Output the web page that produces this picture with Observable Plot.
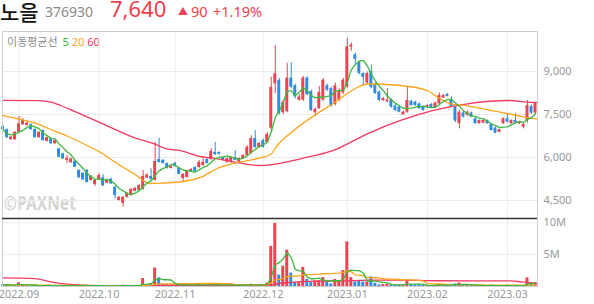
<!DOCTYPE html>
<html><head><meta charset="utf-8">
<script src="https://cdn.jsdelivr.net/npm/d3@7"></script>
<script src="https://cdn.jsdelivr.net/npm/@observablehq/plot@0.6"></script>
<style>
body{margin:0;background:#fff;}
#wrap{position:relative;width:594px;height:304px;overflow:hidden;font-family:"Noto Sans","Noto Sans CJK KR",sans-serif;}
#head{position:absolute;left:0;top:0;}
#legend{position:absolute;left:7px;top:33px;font-size:11px;color:#8c8c8c;white-space:nowrap;}
#wm{position:absolute;left:4px;top:189px;font-size:20px;font-weight:700;color:#d4d4d4;transform:scaleX(0.78);transform-origin:left top;white-space:nowrap;}
#price{position:absolute;left:0;top:31px;}
#vol{position:absolute;left:0;top:218px;}
</style></head>
<body><div id="wrap">
<svg id="head" width="594" height="30" font-family="'Noto Sans','Noto Sans CJK KR',sans-serif">
  <text x="0" y="19.5" font-family="'Noto Sans CJK KR'" font-size="21" font-weight="500" fill="#111">노을</text>
  <text x="45" y="17" font-size="14" fill="#8a8a8a">376930</text>
  <text x="110" y="17" font-size="22" fill="#f0404e">7,640</text>
  <text x="178" y="15" font-size="10" fill="#f0404e">▲</text>
  <text x="191" y="17" font-size="14.5" fill="#f0404e">90</text>
  <text x="213" y="17" font-size="14.5" fill="#f0404e">+1.19%</text>
</svg>
<div id="legend"><span style="font-family:'Noto Sans CJK KR'">이동평균선</span> <span style="color:#3cb83c;margin-left:2px">5</span> <span style="color:#ffa31a">20</span> <span style="color:#f23a62">60</span></div>
<div id="wm">©PAXNet</div>
<div id="price"></div>
<div id="vol"></div>
</div>
<script>
// ---- data (index = trading day from 2022-08-26) ----
const monthIdx = [4, 24, 43, 65, 86, 106, 126];
const monthLabels = ["2022.09", "2022.10", "2022.11", "2022.12", "2023.01", "2023.02", "2023.03"];
const priceTicks = [4500, 6000, 7500, 9000];
const volTicks = [5, 10];

const open = [7070,6970,6620,6620,6880,7140,7120,7140,6980,6690,6940,6560,6650,6480,6300,6130,5900,5820,5870,5550,5450,5550,5200,5060,5220,5290,5100,5240,4960,4500,4400,4610,4675,4815,4850,4880,5280,5340,5200,5930,5900,5790,5620,5790,5620,5270,5300,5510,5650,5650,5720,5930,5930,6175,6170,6000,5830,5830,6000,5830,5965,6070,6140,6660,6350,6590,6520,7020,8570,8690,7560,7600,8770,8500,8000,8000,8770,8300,7560,7700,8000,8500,8400,7850,8000,8250,8460,9850,9580,9300,8930,8600,9000,8560,8280,7990,7950,8000,7800,7760,7490,7580,7960,7930,7870,7750,7740,7850,7740,7870,8080,8200,8010,7760,7180,7550,7470,7550,7350,7180,7200,7290,7150,7030,6880,7180,7350,7180,7290,7180,7060,7290,7780,7550];
const high = [7130,7000,6730,6900,7430,7350,7260,7180,7000,6900,6960,6720,6680,6620,6330,6150,6070,5980,5900,5570,5470,5580,5370,5230,5440,5400,5250,5280,4990,4640,4640,4780,4920,4960,5060,5550,5420,5610,6525,6675,5930,5810,5710,5830,5650,5440,5540,5620,5680,5900,5960,5960,6310,6525,6200,6030,5990,6030,6240,5990,6100,6420,6760,6940,6520,6640,6870,8800,9900,8760,8000,9280,9300,8560,8200,8830,8820,8350,7720,8480,8750,8560,8450,8600,8400,8760,10150,10000,9650,9350,8950,8980,9220,8600,8330,8100,8400,8050,7850,7800,7620,8450,8000,7960,7900,7780,7840,7880,7930,8250,8200,8230,8120,7790,7640,7600,7620,7580,7400,7310,7310,7310,7180,7060,6990,7380,7500,7310,7540,7260,7180,7990,7830,7900];
const low = [6940,6660,6600,6600,6860,7120,7090,6950,6680,6670,6570,6540,6450,6460,5990,5930,5790,5800,5640,5270,5200,5110,5180,4990,5200,4990,5080,5060,4550,4480,4270,4590,4650,4800,4830,4870,5260,5160,5180,5800,5770,5600,5600,5670,5390,5150,5280,5490,5490,5620,5700,5770,5900,6070,6090,5880,5800,5800,5880,5780,5940,6040,6100,6320,6320,6330,6490,6880,8230,7480,7500,7560,8400,8040,7960,7960,8150,7600,7430,7680,7960,8300,7750,7800,7950,8200,8420,9700,9230,8880,8500,8550,8400,8200,7950,7950,7900,7720,7600,7560,7470,7550,7790,7790,7680,7620,7720,7720,7720,7850,8060,8110,7750,7220,7000,7380,7440,7390,7160,7160,7180,7160,6920,6820,6860,7150,7210,7160,7180,7150,7000,7200,7500,7500];
const close = [6970,6690,6710,6880,7175,7290,7200,6970,6690,6880,6590,6690,6480,6590,6010,5950,5970,5950,5660,5290,5220,5130,5340,5200,5370,5010,5220,5080,4680,4610,4610,4745,4885,4920,5020,5340,5390,5240,5860,5830,5790,5620,5690,5690,5410,5410,5510,5580,5510,5830,5830,5790,6210,6105,6110,5900,5960,6000,5900,5960,6070,6350,6660,6350,6490,6350,6800,8450,8920,7540,7930,8770,8450,8110,8110,8770,8190,7640,7680,8270,8700,8350,7800,8500,8300,8700,9860,9920,9420,8930,8800,8930,8440,8230,7990,8060,8000,7760,7640,7580,7580,7990,7810,7810,7700,7640,7810,7740,7900,8160,8160,8130,7780,7270,7580,7410,7580,7410,7180,7290,7290,7180,6940,6850,6970,7350,7230,7290,7200,7230,7150,7810,7550,7880];
// volume in millions of shares
const volume = [0.25,0.3,0.15,0.2,0.56,0.2,0.15,0.12,0.15,0.12,0.15,0.1,0.12,0.1,0.15,0.1,0.12,0.1,0.1,0.15,0.12,0.15,0.1,0.1,0.1,0.12,0.08,0.08,0.18,0.12,0.2,0.1,0.12,0.1,0.15,1.25,0.3,0.4,2.9,1.35,0.35,0.3,0.2,0.2,0.3,0.25,0.25,0.2,0.2,0.3,0.25,0.2,0.35,0.3,0.25,0.2,0.2,0.2,0.25,0.2,0.2,0.3,0.35,0.25,0.2,0.25,0.5,6.3,9.9,1.8,3.2,5.7,2.1,0.6,0.6,3.0,1.1,0.6,0.9,0.9,1.4,0.7,0.4,1.1,0.9,2.5,7.0,1.4,0.7,0.8,0.7,0.7,1.5,0.5,0.25,0.3,0.35,0.25,0.2,0.25,0.2,0.9,0.3,0.2,0.25,0.2,0.15,0.15,0.2,0.35,0.3,0.15,0.25,0.4,0.55,0.2,0.15,0.15,0.2,0.15,0.12,0.12,0.2,0.15,0.15,0.12,0.15,0.12,0.15,0.12,0.15,1.35,0.5,0.6];
// moving averages (index, value)
const ma20Idx = [0,4.4,7.6,11.9,16,20,24.4,28.5,32.6,36.8,40,45,49.3,53.5,57.6,63.5,66.8,68.5,72.6,78.5,82.5,86,88.5,91,99.3,106,108.5,111.8,116,120,124.2,128.4,131,133.4];
const ma20Val = [7465,7326,7221,6977,6750,6489,6175,5791,5442,5093,5111,5163,5303,5617,5791,5965,6105,6419,6942,7535,7884,8233,8442,8564,8512,8337,8104,7873,7800,7699,7580,7465,7385,7350];
const ma60Idx = [0,9,12,14.4,18,24.4,32.6,37.6,41,44.3,49.3,52.6,59.3,64.3,66.8,68.5,74.3,82.5,91,99.3,107.5,116,126.7,131,133.4];
const ma60Val = [7990,7985,7930,7814,7600,7210,6700,6480,6300,6240,6035,5976,5802,5721,5746,5781,5955,6245,6827,7291,7640,7873,7988,7929,7920];
const vma60Idx = [0,8,12,16,24,33,40,60,66,69,73.5,78,84,93,100,108,127,129.5,133.4];
const vma60Val = [1.35,1.25,0.72,0.36,0.12,0.1,0.2,0.2,0.2,0.47,0.72,0.83,0.88,1.0,1.0,0.9,0.88,0.72,0.47];

const UP = "#f3414e", DOWN = "#2d8ce8", G5 = "#3cb83c", O20 = "#ffa31a", R60 = "#f23a62";
const GRID = "#ececec", FRAME = "#cfcfcf";
const rows = open.map((o, i) => ({i, o, h: high[i], l: low[i], c: close[i], v: volume[i], up: close[i] >= o}));
const ma20 = ma20Idx.map((i, k) => ({i, v: ma20Val[k]}));
const ma60 = ma60Idx.map((i, k) => ({i, v: ma60Val[k]}));
const vma60 = vma60Idx.map((i, k) => ({i, v: vma60Val[k]}));
const xDomain = [-0.12, 133.5];
const font = {fontFamily: "'Noto Sans', sans-serif", fontSize: "11px", color: "#999", background: "transparent", overflow: "visible"};
const half = 0.37;

const price = Plot.plot({
  width: 594, height: 187, marginLeft: 2, marginRight: 57, marginTop: 0, marginBottom: 0,
  style: font,
  x: {domain: xDomain, axis: null},
  y: {domain: [3872, 10395], axis: "right", ticks: priceTicks, tickFormat: d3.format(","), tickSize: 0, tickPadding: 6, label: null},
  marks: [
    Plot.ruleX(monthIdx, {stroke: GRID}),
    Plot.ruleY(priceTicks, {stroke: GRID}),
    Plot.ruleX(rows, {x: "i", y1: "l", y2: "h", stroke: d => d.up ? UP : DOWN, strokeWidth: 1}),
    Plot.rect(rows, {x1: d => d.i - half, x2: d => d.i + half, y1: "o", y2: "c", fill: d => d.up ? UP : DOWN}),
    Plot.line(ma60, {x: "i", y: "v", stroke: R60, strokeWidth: 1.3, curve: "monotone-x", clip: true}),
    Plot.line(ma20, {x: "i", y: "v", stroke: O20, strokeWidth: 1.3, curve: "monotone-x", clip: true}),
    Plot.lineY(rows, Plot.windowY({k: 5, anchor: "end", reduce: "mean"}, {x: "i", y: "c", stroke: G5, strokeWidth: 1.3, clip: true})),
    Plot.frame({stroke: FRAME})
  ]
});
document.getElementById("price").append(price);

const vTop = 10.67;
const vol = Plot.plot({
  width: 594, height: 86, marginLeft: 2, marginRight: 57, marginTop: 0, marginBottom: 18,
  style: font,
  x: {domain: xDomain, axis: "bottom", ticks: monthIdx, tickFormat: d => monthLabels[monthIdx.indexOf(d)], tickSize: 0, tickPadding: 4, label: null},
  y: {domain: [0, vTop], axis: "right", ticks: volTicks, tickFormat: d => d + "M", tickSize: 0, tickPadding: 6, label: null},
  marks: [
    Plot.ruleX(monthIdx, {stroke: GRID}),
    Plot.ruleY(volTicks, {stroke: GRID}),
    Plot.rectY(rows, {x1: d => d.i - half, x2: d => d.i + half, y: "v", fill: d => d.up ? UP : DOWN}),
    Plot.line(vma60, {x: "i", y: "v", stroke: R60, strokeWidth: 1.3, curve: "monotone-x", clip: true}),
    Plot.lineY(rows, Plot.windowY({k: 20, anchor: "end", reduce: "mean"}, {x: "i", y: "v", stroke: O20, strokeWidth: 1.3, clip: true})),
    Plot.lineY(rows, Plot.windowY({k: 5, anchor: "end", reduce: "mean"}, {x: "i", y: "v", stroke: G5, strokeWidth: 1.3, clip: true})),
    Plot.frame({stroke: FRAME}),
    Plot.ruleY([vTop], {stroke: "#333", strokeWidth: 1.5})
  ]
});
document.getElementById("vol").append(vol);
</script>
</body></html>
